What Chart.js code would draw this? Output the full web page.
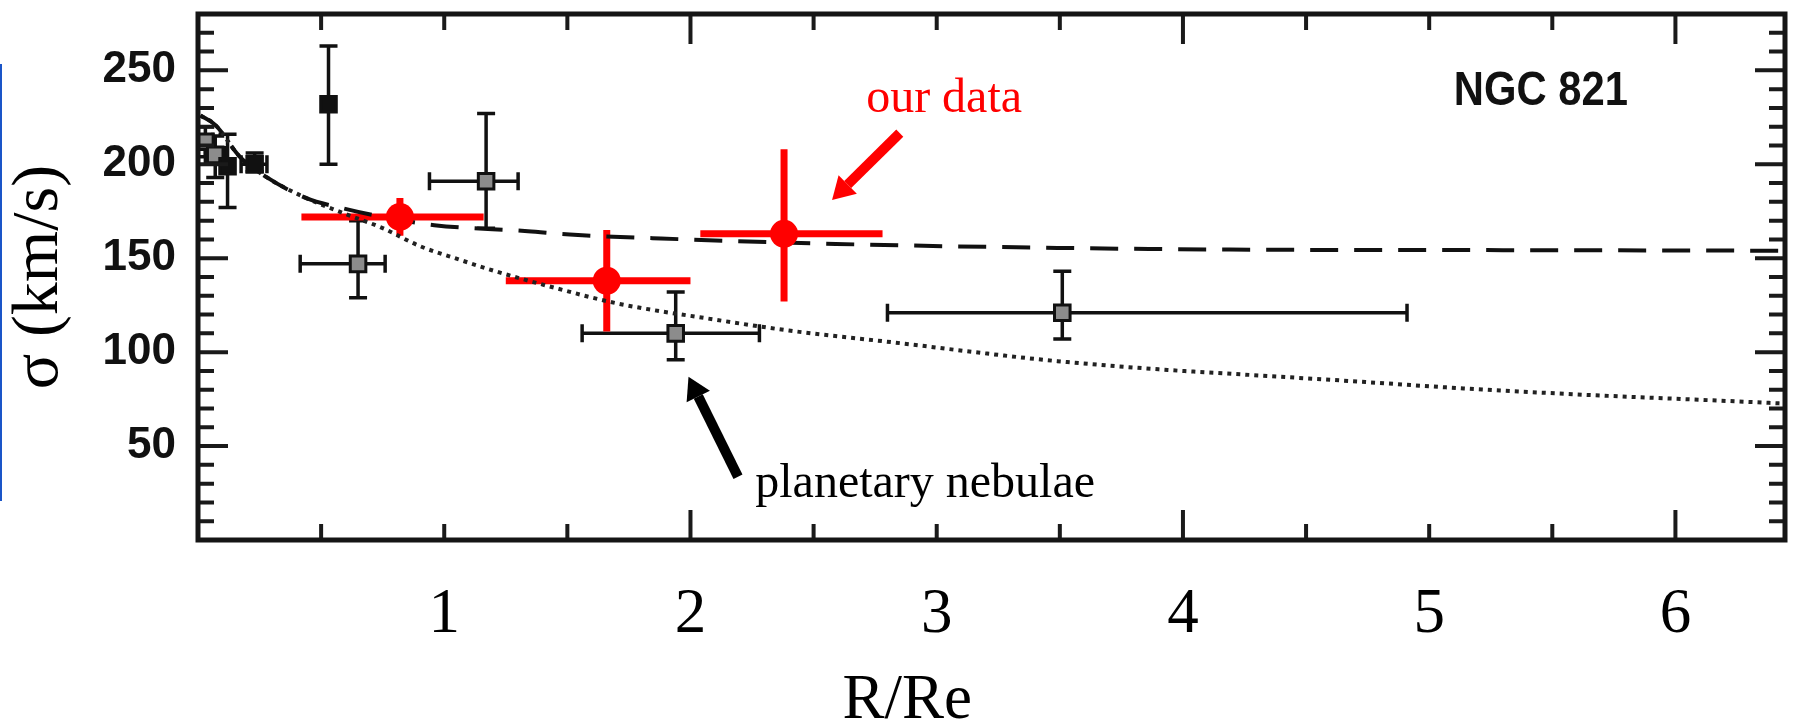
<!DOCTYPE html>
<html>
<head>
<meta charset="utf-8">
<script src="https://cdn.jsdelivr.net/npm/chart.js@4.4.1/dist/chart.umd.min.js"></script>
<style>
  html, body { margin: 0; padding: 0; background: #fff; }
  #wrap { position: relative; width: 1799px; height: 725px; }
  #edge { position: absolute; left: 0; top: 64px; width: 2px; height: 437px; background: #1a55c8; }
</style>
</head>
<body>
<div id="wrap">
  <canvas id="sigmaChart"></canvas>
  <div id="edge"></div>
</div>
<script>
// NGC 821 velocity dispersion vs R/Re

// our data (red)
const ourR = [0.82, 1.66, 2.38];
const ourSigma = [172, 138, 163];
const ourRLo = [0.40, 0.41, 0.34];
const ourRHi = [0.34, 0.34, 0.40];
const ourSigmaLo = [10, 27, 36];
const ourSigmaHi = [10, 27, 45];

// literature points (black): stellar + planetary nebulae
const pnR = [0.03, 0.07, 0.12, 0.23, 0.53, 0.65, 1.17, 1.94, 3.51];
const pnSigma = [212, 205, 199, 200, 232, 147, 191, 110, 121];
const pnRLo = [0.03, 0.04, 0, 0.055, 0, 0.235, 0.23, 0.38, 0.71];
const pnRHi = [0.03, 0.04, 0, 0.05, 0, 0.11, 0.13, 0.34, 1.40];
const pnSigmaLo = [8, 12, 22, 4, 32, 18, 25, 14, 14];
const pnSigmaHi = [8, 10, 17, 6, 31, 23, 36, 22, 22];
const pnFilled = [false, false, true, true, true, false, false, false, false];

// model curves
const dotR = [0.01, 0.07, 0.17, 0.28, 0.44, 0.59, 0.75, 0.90, 1.06, 1.21, 1.45, 1.70, 2.09, 2.40, 2.87, 3.18, 3.49, 3.95, 4.13, 4.68, 5.14, 5.60, 6.38, 6.44];
const dotSigma = [226, 221, 204, 193, 182, 174, 166, 156.5, 149.3, 143, 134.2, 126, 117.5, 111.5, 104.5, 99.6, 95.2, 90.4, 89, 84.6, 80.7, 77.5, 73, 72.6];
const dashR = [0.01, 0.07, 0.17, 0.28, 0.44, 0.59, 0.73, 0.96, 1.34, 1.51, 1.88, 2.59, 3.49, 4.19, 5.30, 6.44];
const dashSigma = [226, 221, 204, 193, 182, 176.5, 172.5, 167.6, 164.4, 162.6, 160.5, 157.6, 155.5, 154.6, 154.3, 154];

// axes
const xTickValues = [1, 2, 3, 4, 5, 6];
const xTickLabels = ['1', '2', '3', '4', '5', '6'];
const yTickValues = [50, 100, 150, 200, 250];
const yTickLabels = ['50', '100', '150', '200', '250'];

const toPoints = (xs, ys) => xs.map((x, i) => ({ x: x, y: ys[i] }));

function drawErrorBars(ctx, xs, ys, R, S, rLo, rHi, sLo, sHi, cap) {
  for (let i = 0; i < R.length; i++) {
    const cx = xs.getPixelForValue(R[i]);
    const cy = ys.getPixelForValue(S[i]);
    ctx.beginPath();
    if (rLo[i] || rHi[i]) {
      const x1 = xs.getPixelForValue(R[i] - rLo[i]);
      const x2 = xs.getPixelForValue(R[i] + rHi[i]);
      ctx.moveTo(x1, cy); ctx.lineTo(x2, cy);
      if (cap) {
        ctx.moveTo(x1, cy - cap); ctx.lineTo(x1, cy + cap);
        ctx.moveTo(x2, cy - cap); ctx.lineTo(x2, cy + cap);
      }
    }
    if (sLo[i] || sHi[i]) {
      const y1 = ys.getPixelForValue(S[i] - sLo[i]);
      const y2 = ys.getPixelForValue(S[i] + sHi[i]);
      ctx.moveTo(cx, y1); ctx.lineTo(cx, y2);
      if (cap) {
        ctx.moveTo(cx - cap, y1); ctx.lineTo(cx + cap, y1);
        ctx.moveTo(cx - cap, y2); ctx.lineTo(cx + cap, y2);
      }
    }
    ctx.stroke();
  }
}

function drawArrow(ctx, x1, y1, x2, y2, color, width, headLen, headWidth) {
  const dx = x2 - x1, dy = y2 - y1;
  const len = Math.sqrt(dx * dx + dy * dy);
  const ux = dx / len, uy = dy / len;
  const bx = x2 - ux * headLen, by = y2 - uy * headLen;
  ctx.strokeStyle = color;
  ctx.fillStyle = color;
  ctx.lineWidth = width;
  ctx.lineCap = 'butt';
  ctx.beginPath();
  ctx.moveTo(x1, y1); ctx.lineTo(bx, by);
  ctx.stroke();
  ctx.beginPath();
  ctx.moveTo(x2, y2);
  ctx.lineTo(bx - uy * headWidth / 2, by + ux * headWidth / 2);
  ctx.lineTo(bx + uy * headWidth / 2, by - ux * headWidth / 2);
  ctx.closePath();
  ctx.fill();
}

const figurePlugin = {
  id: 'figure',
  beforeDatasetsDraw(chart) {
    const ctx = chart.ctx, xs = chart.scales.x, ys = chart.scales.y, a = chart.chartArea;
    ctx.save();
    ctx.beginPath();
    ctx.rect(a.left, a.top, a.right - a.left, a.bottom - a.top);
    ctx.clip();
    ctx.strokeStyle = '#111';
    ctx.lineWidth = 3.5;
    drawErrorBars(ctx, xs, ys, pnR, pnSigma, pnRLo, pnRHi, pnSigmaLo, pnSigmaHi, 9);
    ctx.strokeStyle = '#ff0000';
    ctx.lineWidth = 7;
    drawErrorBars(ctx, xs, ys, ourR, ourSigma, ourRLo, ourRHi, ourSigmaLo, ourSigmaHi, 0);
    ctx.restore();
  },
  afterDraw(chart) {
    const ctx = chart.ctx, xs = chart.scales.x, ys = chart.scales.y, a = chart.chartArea;
    ctx.save();
    // inward tick marks on all four sides
    ctx.strokeStyle = '#1a1a1a';
    ctx.lineWidth = 4;
    ctx.beginPath();
    for (let v = 10; v < ys.max; v += 10) {
      const y = ys.getPixelForValue(v);
      const len = v % 50 === 0 ? 30 : 16;
      ctx.moveTo(a.left, y); ctx.lineTo(a.left + len, y);
      ctx.moveTo(a.right, y); ctx.lineTo(a.right - len, y);
    }
    for (let k = 1; k * 0.5 < xs.max; k++) {
      const x = xs.getPixelForValue(k * 0.5);
      const len = k % 4 === 0 ? 30 : 16;
      ctx.moveTo(x, a.bottom); ctx.lineTo(x, a.bottom - len);
      ctx.moveTo(x, a.top); ctx.lineTo(x, a.top + len);
    }
    ctx.stroke();
    // frame
    ctx.lineWidth = 5;
    ctx.strokeStyle = '#151515';
    ctx.strokeRect(a.left, a.top, a.right - a.left, a.bottom - a.top);

    // annotations
    ctx.textAlign = 'center';
    ctx.textBaseline = 'alphabetic';
    ctx.fillStyle = '#ff0000';
    ctx.font = '48px "Liberation Serif"';
    ctx.fillText('our data', xs.getPixelForValue(3.03), ys.getPixelForValue(228));
    drawArrow(ctx, xs.getPixelForValue(2.85), ys.getPixelForValue(216.6),
      xs.getPixelForValue(2.575), ys.getPixelForValue(181), '#ff0000', 10, 22, 26);

    ctx.fillStyle = '#000';
    ctx.textAlign = 'left';
    ctx.fillText('planetary nebulae', xs.getPixelForValue(2.263), ys.getPixelForValue(23));
    drawArrow(ctx, xs.getPixelForValue(2.193), ys.getPixelForValue(33.7),
      xs.getPixelForValue(1.992), ys.getPixelForValue(86.9), '#000', 10, 22, 26);

    // label in the pixel font of the original: tall and narrow
    ctx.save();
    ctx.translate(xs.getPixelForValue(5.10), ys.getPixelForValue(231.5));
    ctx.scale(0.87, 1);
    ctx.fillStyle = '#111';
    ctx.font = 'bold 48px "Liberation Sans"';
    ctx.fillText('NGC 821', 0, 0);
    ctx.restore();

    // x axis title
    ctx.fillStyle = '#000';
    ctx.textAlign = 'center';
    ctx.font = '63px "Liberation Serif"';
    ctx.fillText('R/Re', xs.getPixelForValue(2.88), chart.height - 7);
    ctx.restore();
  }
};

new Chart(document.getElementById('sigmaChart'), {
  type: 'scatter',
  data: {
    datasets: [
      {
        label: 'our data',
        data: toPoints(ourR, ourSigma),
        pointStyle: 'circle',
        pointRadius: 14,
        backgroundColor: '#ff0000',
        borderWidth: 0
      },
      {
        label: 'literature',
        data: toPoints(pnR, pnSigma),
        pointStyle: 'rect',
        pointRadius: 11,
        backgroundColor: pnFilled.map(f => f ? '#111' : '#8c8c8c'),
        borderColor: '#111',
        borderWidth: 3
      },
      {
        label: 'dashed model',
        data: toPoints(dashR, dashSigma),
        showLine: true,
        pointRadius: 0,
        borderColor: '#111',
        borderWidth: 4,
        borderDash: [28, 16],
        cubicInterpolationMode: 'monotone'
      },
      {
        label: 'dotted model',
        data: toPoints(dotR, dotSigma),
        showLine: true,
        pointRadius: 0,
        borderColor: '#222',
        borderWidth: 4,
        borderDash: [4, 5],
        cubicInterpolationMode: 'monotone'
      }
    ]
  },
  options: {
    responsive: true,
    maintainAspectRatio: false,
    animation: false,
    layout: { padding: { left: 0, top: 14, right: 9, bottom: 0 } },
    plugins: {
      legend: { display: false },
      tooltip: { enabled: false }
    },
    scales: {
      x: {
        type: 'linear',
        min: 0,
        max: 6.445,
        grid: { display: false, drawTicks: false },
        border: { display: false },
        afterBuildTicks: s => { s.ticks = xTickValues.map(v => ({ value: v })); },
        ticks: {
          callback: (v, i) => xTickLabels[i],
          font: { family: 'Liberation Serif', size: 63 },
          color: '#000',
          padding: 38,
          maxRotation: 0
        },
        afterFit: s => { s.height = 185; s.paddingLeft = 0; s.paddingRight = 0; }
      },
      y: {
        type: 'linear',
        min: 0,
        max: 280,
        grid: { display: false, drawTicks: false },
        border: { display: false },
        afterBuildTicks: s => { s.ticks = yTickValues.map(v => ({ value: v })); },
        ticks: {
          callback: (v, i) => yTickLabels[i],
          font: { family: 'Liberation Sans', size: 44, weight: 'bold' },
          color: '#111',
          padding: 22
        },
        title: {
          display: true,
          text: 'σ (km/s)',
          font: { family: 'Liberation Serif', size: 66 },
          color: '#000',
          padding: { top: 0, bottom: 0 }
        },
        afterFit: s => { s.width = 198; s.paddingTop = 0; s.paddingBottom = 0; }
      }
    }
  },
  plugins: [figurePlugin]
});
</script>
</body>
</html>
